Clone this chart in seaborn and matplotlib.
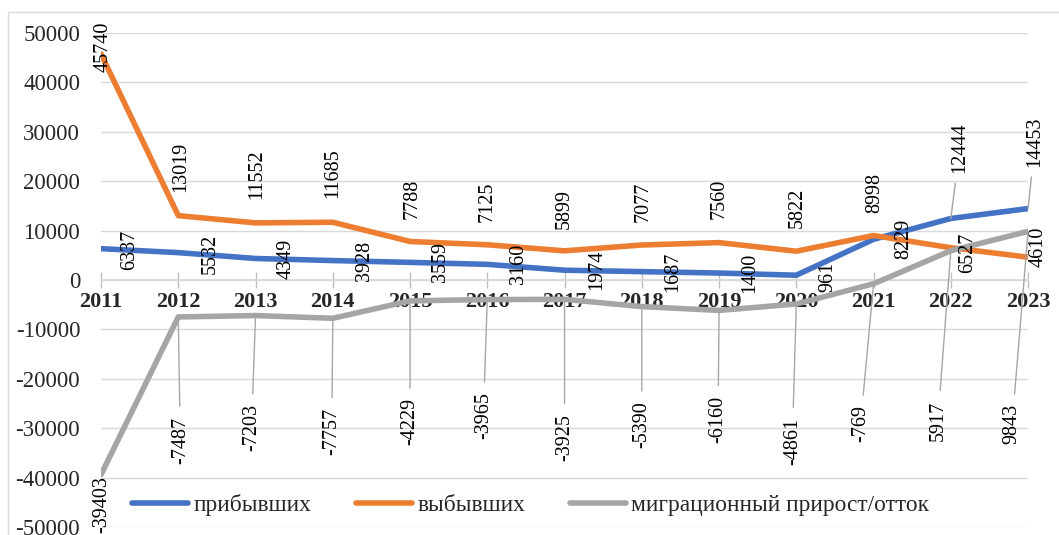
import matplotlib
matplotlib.use('Agg')
import matplotlib.pyplot as plt
import pandas as pd
import seaborn as sns

YEARS = ['2011', '2012', '2013', '2014', '2015', '2016', '2017',
         '2018', '2019', '2020', '2021', '2022', '2023']
ARRIVED = [6337, 5532, 4349, 3928, 3559, 3160, 1974, 1687, 1400, 961, 8229, 12444, 14453]
DEPARTED = [45740, 13019, 11552, 11685, 7788, 7125, 5899, 7077, 7560, 5822, 8998, 6527, 4610]
NET = [-39403, -7487, -7203, -7757, -4229, -3965, -3925, -5390, -6160, -4861, -769, 5917, 9843]
SERIES = ['прибывших', 'выбывших', 'миграционный прирост/отток']
COLORS = ['#4472C4', '#ED7D31', '#A5A5A5']

# label centre offsets from the point, in pixels (right, up)
ARRIVED_OFFS = [(29, -1), (32, -1), (31, 0), (32, 0), (30, 0), (31, 0), (32, 0),
                (31, 0), (31, 0), (32, -2), (30, 0), (9, 71), (7, 67)]
DEPARTED_OFFS = [(2, 7), (2, 49), (1, 49), (0, 49), (2, 43), (0, 43), (0, 42),
                 (1, 43), (0, 44), (1, 43), (1, 43), (17, -5), (10, 10)]
NET_OFFS = [(1, -30), (2, -123), (-4, -112), (-1, -113), (0, -121), (-4, -116),
            (0, -138), (0, -118), (-1, -109), (-4, -137), (-13, -140),
            (-13, -170), (-16, -193)]
ARRIVED_LEADERS = [False] * 11 + [True, True]
DEPARTED_LEADERS = [False] * 13
NET_LEADERS = [False] + [True] * 12

sns.set_theme(style='white')
plt.rcParams['font.family'] = ['Liberation Serif', 'DejaVu Serif']
plt.rcParams['axes.unicode_minus'] = False

df = pd.DataFrame({
    'year': YEARS * 3,
    'value': ARRIVED + DEPARTED + NET,
    'series': [s for s in SERIES for _ in YEARS],
})

fig = plt.figure(figsize=(10.59, 5.35), dpi=100)
ax = fig.add_axes([0.0954, 0.0150, 0.8754, 0.9234])

sns.lineplot(data=df, x='year', y='value', hue='series', hue_order=SERIES,
             palette=dict(zip(SERIES, COLORS)), lw=4, sort=False, ax=ax,
             solid_joinstyle='round', solid_capstyle='round', zorder=3)

ax.set_xlim(0, 12)
ax.set_ylim(-50000, 50000)
ax.set_yticks(range(-50000, 50001, 10000))
ax.set_xticks(range(len(YEARS)))
ax.set_xticklabels(YEARS)
ax.set_xlabel('')
ax.set_ylabel('')
ax.yaxis.grid(True, color='#d9d9d9', lw=1)
ax.xaxis.grid(False)
for side in ['top', 'right', 'left']:
    ax.spines[side].set_visible(False)
ax.spines['bottom'].set_position(('data', 0))
ax.spines['bottom'].set_color('#d9d9d9')
ax.tick_params(axis='x', direction='inout', length=11, width=1,
               color='#bfbfbf', pad=3, bottom=True, labelsize=16)
ax.tick_params(axis='y', length=0, pad=15, labelsize=16.5)
for lbl in ax.get_xticklabels():
    lbl.set_fontweight('bold')

for vals, offs, leaders in [(ARRIVED, ARRIVED_OFFS, ARRIVED_LEADERS),
                            (DEPARTED, DEPARTED_OFFS, DEPARTED_LEADERS),
                            (NET, NET_OFFS, NET_LEADERS)]:
    for i, v in enumerate(vals):
        dx, dy = offs[i]
        kw = {}
        if leaders[i]:
            kw['arrowprops'] = dict(arrowstyle='-', color='#a6a6a6', lw=1,
                                    shrinkA=5, shrinkB=0)
        ax.annotate(str(v), xy=(i, v), xytext=(dx * 0.72, dy * 0.72),
                    textcoords='offset points', rotation=90, ha='center',
                    va='center', fontsize=14.5, color='#000000', zorder=4, **kw)

old = ax.get_legend()
handles = old.legend_handles
labels = [t.get_text() for t in old.get_texts()]
for h in handles:
    h.set_linewidth(4)
ax.legend(handles, labels, loc='center', bbox_to_anchor=(0.4633, 0.0445),
          ncol=3, frameon=False, fontsize=16.8, handlelength=2.4,
          handletextpad=0.25, columnspacing=1.9)

# light chart border
fig.add_artist(plt.Line2D([8 / 1059, 8 / 1059], [0, 523 / 535], color='#d9d9d9', lw=1))
fig.add_artist(plt.Line2D([8 / 1059, 1], [523 / 535, 523 / 535], color='#d9d9d9', lw=1))

fig.savefig('out.png', dpi=100)
